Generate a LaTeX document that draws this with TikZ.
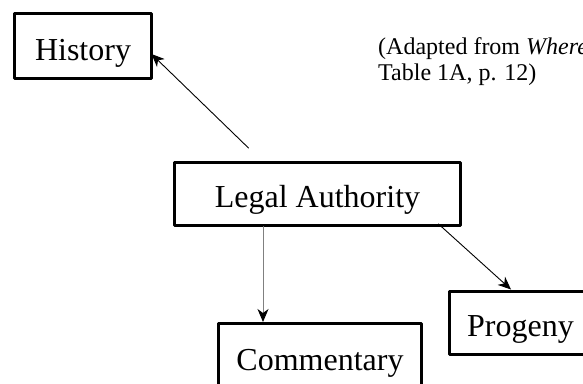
\documentclass[tikz,border=0pt]{standalone}
\usepackage{fontspec}
\setmainfont{Liberation Serif}
\usetikzlibrary{arrows.meta,calc,positioning}
\definecolor{linkgray}{RGB}{128,128,128}
\tikzset{
  every node/.style={font=\fontsize{32}{38}\selectfont},
  topic/.style={draw=black, line width=3pt, inner sep=0pt,
    text height=28pt, text depth=0pt, minimum height=63pt},
  note/.style={font=\fontsize{24}{26}\selectfont, align=left, inner sep=0pt},
  link/.style={line width=0.9pt, -{Stealth[length=13pt, width=11pt, inset=4pt]}},
  gray link/.style={link, draw=linkgray,
    -{Stealth[length=13pt, width=11pt, inset=4pt, color=black]}}
}
\begin{document}
\begin{tikzpicture}[x=1pt, y=-1pt, line cap=round, line join=round]
  \useasboundingbox (0,0) rectangle (583,383);
  \clip (0,0) rectangle (583,383);

  % the four boxes
  \node[topic, minimum width=137pt, minimum height=65pt] (history) at (83,46) {History\hspace{7pt}};
  \node[topic, minimum width=286pt] (legal) at (317.5,193.5) {Legal Authority};
  \node[topic, minimum width=203pt, minimum height=65pt] (commentary) at (320,356) {Commentary};
  \node[topic, minimum width=142pt] (progeny) at (520.5,322.5) {Progeny};

  \node[note, anchor=north west] (source) at (378,37.5)
    {(Adapted from \textit{Where}\\Table 1A, p. 12)};

  % connectors
  \coordinate (hist out) at ($(legal.north west)+(75.5,-12.5)$);
  \coordinate (hist in) at ($(history.east)+(-1.5,8)$);
  \coordinate (comm in) at ($(commentary.north)+(-57,0)$);
  \coordinate (prog out) at ($(legal.south east)+(-23.5,-2.5)$);
  \coordinate (prog in) at ($(progeny.north)+(-9.5,0)$);

  \draw[link] (hist out) -- (hist in);
  \draw[gray link] (comm in |- legal.south) -- (comm in);
  \draw[link] (prog out) -- (prog in);
\end{tikzpicture}
\end{document}
